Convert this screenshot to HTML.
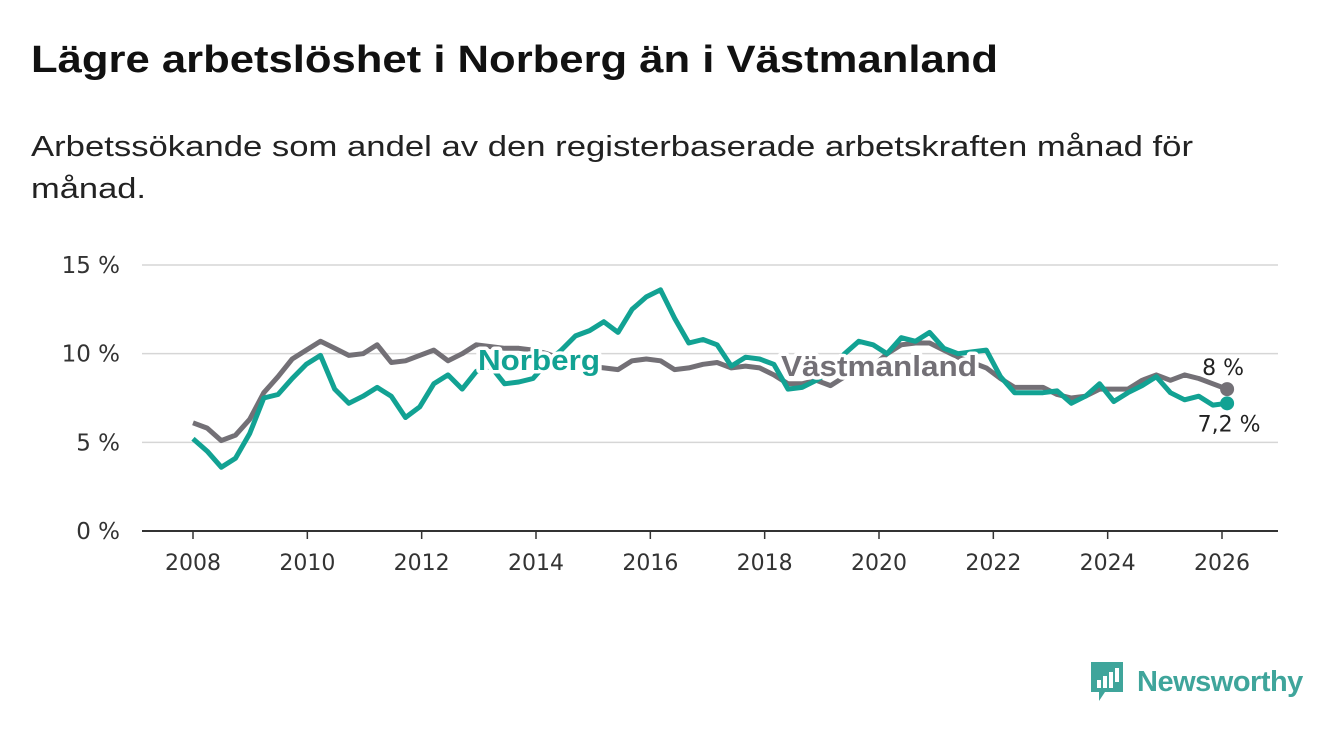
<!DOCTYPE html>
<html><head><meta charset="utf-8"><style>
body{margin:0;background:#fff;font-family:"Liberation Sans","DejaVu Sans",sans-serif;}
#wrap{position:relative;width:1340px;height:734px;overflow:hidden}
svg{position:absolute;left:0;top:0}
</style></head><body>
<div id="wrap">
<svg width="1340" height="220">
<text x="31" y="72" font-size="38" font-weight="bold" fill="#111" textLength="967" lengthAdjust="spacingAndGlyphs" font-family="Liberation Sans, sans-serif">Lägre arbetslöshet i Norberg än i Västmanland</text>
<text x="31" y="156" font-size="29" fill="#222" textLength="1162" lengthAdjust="spacingAndGlyphs" font-family="Liberation Sans, sans-serif">Arbetssökande som andel av den registerbaserade arbetskraften månad för</text>
<text x="31" y="198" font-size="29" fill="#222" textLength="115" lengthAdjust="spacingAndGlyphs" font-family="Liberation Sans, sans-serif">månad.</text>
</svg>
<svg id="chart" width="1340" height="734"></svg>
<div style="position:absolute;left:1089px;top:660px;height:44px;display:flex;align-items:center">
<svg width="36" height="44" style="position:static"><path d="M2 2h32v30H16l-6 9v-9H2z" fill="#3fa59b"/><rect x="8" y="20" width="4" height="8" fill="#fff"/><rect x="14" y="16" width="4" height="12" fill="#fff"/><rect x="20" y="12" width="4" height="16" fill="#fff"/><rect x="26" y="8" width="4" height="14" fill="#fff"/></svg>
<span style="font-size:29px;color:#3fa59b;margin-left:12px;font-weight:bold;letter-spacing:-0.5px">Newsworthy</span></div>
</div>
<script>
const startYear = 2008;
const stepYears = 0.2478;
const norberg = [5.2,4.5,3.6,4.1,5.5,7.5,7.7,8.6,9.4,9.9,8.0,7.2,7.6,8.1,7.6,6.4,7.0,8.3,8.8,8.0,9.0,9.3,8.3,8.4,8.6,9.5,10.2,11.0,11.3,11.8,11.2,12.5,13.2,13.6,12.0,10.6,10.8,10.5,9.3,9.8,9.7,9.4,8.0,8.1,8.5,9.0,10.0,10.7,10.5,10.0,10.9,10.7,11.2,10.3,10.0,10.1,10.2,8.7,7.8,7.8,7.8,7.9,7.2,7.6,8.3,7.3,7.8,8.2,8.7,7.8,7.4,7.6,7.1,7.2];
const vastmanland = [6.1,5.8,5.1,5.4,6.3,7.8,8.7,9.7,10.2,10.7,10.3,9.9,10.0,10.5,9.5,9.6,9.9,10.2,9.6,10.0,10.5,10.4,10.3,10.3,10.2,10.0,9.7,9.5,9.3,9.2,9.1,9.6,9.7,9.6,9.1,9.2,9.4,9.5,9.2,9.3,9.2,8.8,8.3,8.3,8.5,8.2,8.7,9.0,9.3,10.0,10.5,10.6,10.6,10.2,9.8,9.5,9.2,8.6,8.1,8.1,8.1,7.7,7.5,7.6,8.0,8.0,8.0,8.5,8.8,8.5,8.8,8.6,8.3,8.0];
const yTicks = [0,5,10,15];
const yTickLabels = ["0 %","5 %","10 %","15 %"];
const xTicks = [2008,2010,2012,2014,2016,2018,2020,2022,2024,2026];
const endLabels = ["8 %","7,2 %"];

const NS="http://www.w3.org/2000/svg";
const svg=document.getElementById('chart');
const x=yr=>193+(yr-2008)*(1222-193)/18;
const y=v=>531-v*(531-265)/15;
function el(t,a){const e=document.createElementNS(NS,t);for(const k in a)e.setAttribute(k,a[k]);svg.appendChild(e);return e;}
yTicks.forEach((t,i)=>{
 const g=el('line',{x1:142,x2:1278,y1:y(t),y2:y(t),stroke:t===0?'#333':'#d6d6d6','stroke-width':t===0?2:1.5});
 
 
 const l=el('text',{x:120,y:y(t)+8,'text-anchor':'end','font-size':23,fill:'#333','font-family':'DejaVu Sans, sans-serif'});
 l.textContent=yTickLabels[i];
 
 
});
xTicks.forEach(t=>{
 const m=el('line',{x1:x(t),x2:x(t),y1:531,y2:539,stroke:'#333','stroke-width':1.5});
 
 
 const l=el('text',{x:x(t),y:570,'text-anchor':'middle','font-size':22,fill:'#333','font-family':'DejaVu Sans, sans-serif'});
 l.textContent=t;
 
 
});
function pts(arr){return arr.map((v,i)=>x(startYear+i*stepYears).toFixed(1)+','+y(v).toFixed(1)).join(' ');}
const lv=el('polyline',{points:pts(vastmanland),fill:'none',stroke:'#737076','stroke-width':5,'stroke-linejoin':'round'});


const ln=el('polyline',{points:pts(norberg),fill:'none',stroke:'#12a293','stroke-width':5,'stroke-linejoin':'round'});


function label(txt,xx,yy,col,name,len){
 const t=el('text',{x:xx,y:yy,'font-size':29,'font-weight':'bold',fill:col,stroke:'#fff','stroke-width':7,'paint-order':'stroke','stroke-linejoin':'round','font-family':'Liberation Sans, sans-serif',textLength:len,lengthAdjust:'spacingAndGlyphs'});
 t.textContent=txt;
 
 
}
label('Norberg',478,370,'#12a293','norberg-series-label',122);
label('Västmanland',781,376,'#737076','vastmanland-series-label',196);
const lastI=norberg.length-1, lx=x(startYear+lastI*stepYears);
const dv=el('circle',{cx:lx,cy:y(vastmanland[lastI]),r:7,fill:'#737076'});


const dn=el('circle',{cx:lx,cy:y(norberg[lastI]),r:7,fill:'#12a293'});


const e1=el('text',{x:lx-4,y:y(vastmanland[lastI])-14,'text-anchor':'middle','font-size':22,fill:'#222','font-family':'DejaVu Sans, sans-serif'});
e1.textContent=endLabels[0];


const e2=el('text',{x:lx+2,y:y(norberg[lastI])+28,'text-anchor':'middle','font-size':22,fill:'#222','font-family':'DejaVu Sans, sans-serif'});
e2.textContent=endLabels[1];


</script>
</body></html>
